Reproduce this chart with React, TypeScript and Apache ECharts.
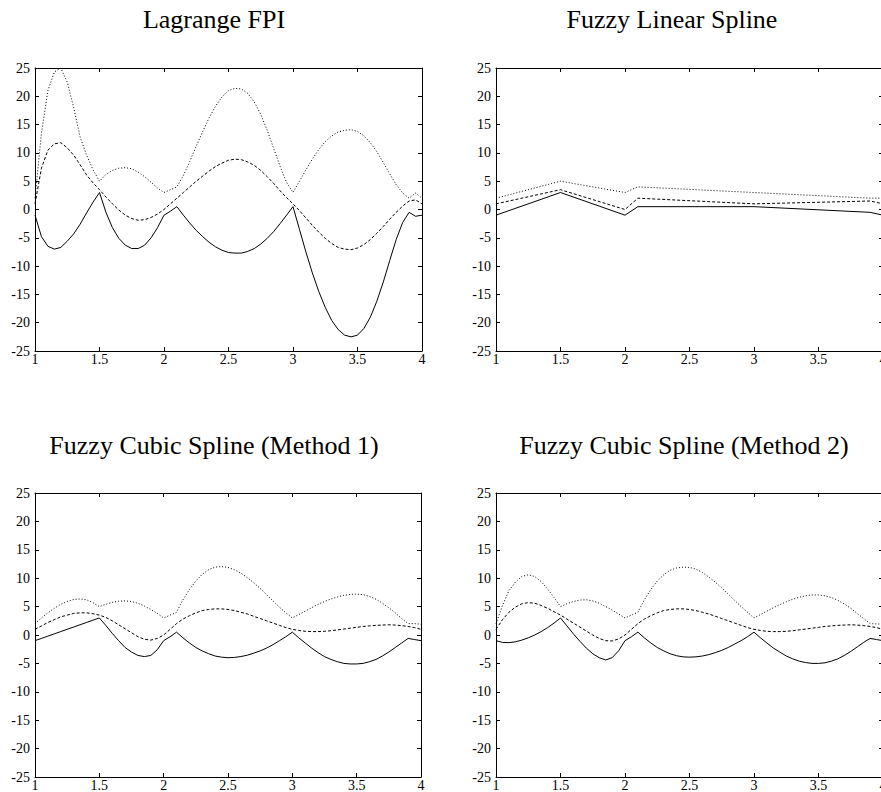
import React, { useEffect, useRef } from "react";
import * as echarts from "echarts";

const XS = [1.00,1.05,1.10,1.15,1.20,1.25,1.30,1.35,1.40,1.45,1.50,1.55,1.60,1.65,1.70,1.75,1.80,1.85,1.90,1.95,2.00,2.05,2.10,2.15,2.20,2.25,2.30,2.35,2.40,2.45,2.50,2.55,2.60,2.65,2.70,2.75,2.80,2.85,2.90,2.95,3.00,3.05,3.10,3.15,3.20,3.25,3.30,3.35,3.40,3.45,3.50,3.55,3.60,3.65,3.70,3.75,3.80,3.85,3.90,3.95,4.00];
// knots of the linear spline
const KNOTS = [1, 1.5, 2, 2.1, 3, 3.9, 4];

// Lagrange FPI
const LAG_LOWER = [-1.0,-4.8,-6.5,-7.0,-6.7,-5.6,-4.3,-2.6,-0.6,1.3,3.0,-0.5,-3.2,-5.1,-6.3,-6.9,-6.9,-6.3,-5.0,-3.2,-1.0,-0.3,0.5,-1.0,-2.4,-3.7,-4.8,-5.8,-6.6,-7.2,-7.6,-7.7,-7.7,-7.4,-6.9,-6.1,-5.1,-3.9,-2.5,-1.0,0.5,-3.5,-7.5,-11.2,-14.5,-17.3,-19.6,-21.2,-22.2,-22.5,-22.2,-21.0,-19.0,-16.2,-12.8,-9.0,-5.3,-2.3,-0.5,-1.2,-1.0];
const LAG_CORE = [1.0,7.3,10.5,11.6,11.8,10.9,9.6,7.9,6.1,4.7,3.5,2.2,1.0,-0.1,-1.0,-1.6,-1.9,-1.8,-1.4,-0.8,0.0,1.0,2.0,3.0,4.0,5.0,5.9,6.8,7.6,8.2,8.7,8.9,8.8,8.4,7.8,6.9,5.8,4.6,3.3,2.1,1.0,-0.2,-1.5,-2.8,-4.0,-5.1,-6.0,-6.7,-7.0,-7.1,-6.8,-6.2,-5.3,-4.2,-3.0,-1.7,-0.5,0.6,1.5,1.7,1.0];
const LAG_UPPER = [2.0,13.5,21.0,24.3,25.0,22.5,18.0,12.8,9.6,7.0,5.0,6.2,6.9,7.3,7.4,7.2,6.6,5.8,4.8,3.8,3.0,3.5,4.0,6.0,8.5,11.2,13.8,16.2,18.3,19.9,21.0,21.4,21.3,20.5,19.0,16.8,14.0,10.8,7.6,4.8,3.0,5.0,7.0,8.9,10.6,12.0,13.0,13.7,14.0,14.1,13.8,13.0,11.8,10.2,8.3,6.3,4.4,2.9,2.0,2.9,2.0];

// Fuzzy linear spline (values at knots)
const LIN_LOWER = [-1, 3, -1, 0.5, 0.5, -0.5, -1];
const LIN_CORE = [1, 3.5, 0, 2, 1, 1.5, 1];
const LIN_UPPER = [2, 5, 3, 4, 3, 2, 2];

// Fuzzy cubic spline, method 1
const C1_LOWER = [-1.0,-0.6,-0.2,0.2,0.6,1.0,1.4,1.8,2.2,2.6,3.0,1.7,0.3,-1.0,-2.2,-3.0,-3.6,-3.8,-3.6,-2.6,-1.0,-0.3,0.5,-0.5,-1.4,-2.2,-2.8,-3.3,-3.7,-3.9,-4.0,-3.95,-3.8,-3.55,-3.2,-2.8,-2.3,-1.7,-1.0,-0.3,0.5,-0.5,-1.4,-2.3,-3.1,-3.8,-4.3,-4.7,-5.0,-5.1,-5.1,-5.0,-4.7,-4.3,-3.7,-3.0,-2.2,-1.4,-0.6,-0.8,-1.0];
const C1_CORE = [1.0,1.6,2.2,2.7,3.2,3.5,3.8,3.9,3.9,3.75,3.5,3.1,2.5,1.8,1.1,0.4,-0.3,-0.75,-0.9,-0.6,0.0,1.0,2.0,2.8,3.4,3.9,4.3,4.5,4.6,4.6,4.5,4.3,4.0,3.7,3.3,2.9,2.5,2.1,1.7,1.3,1.0,0.8,0.65,0.6,0.6,0.65,0.75,0.9,1.05,1.2,1.35,1.5,1.6,1.7,1.75,1.8,1.75,1.65,1.5,1.3,1.0];
const C1_UPPER = [2.0,3.0,3.9,4.7,5.4,5.9,6.25,6.35,6.2,5.7,5.0,5.4,5.75,5.95,6.0,5.9,5.6,5.1,4.5,3.8,3.0,3.5,4.0,6.2,8.0,9.5,10.7,11.5,11.95,12.05,11.9,11.5,10.9,10.1,9.2,8.2,7.1,6.0,4.9,3.9,3.0,3.6,4.2,4.8,5.4,5.9,6.35,6.7,7.0,7.15,7.2,7.1,6.8,6.3,5.6,4.8,3.9,2.9,2.0,2.0,1.9];

// Fuzzy cubic spline, method 2
const C2_LOWER = [-1.0,-1.3,-1.35,-1.2,-0.9,-0.5,0.0,0.6,1.3,2.1,3.0,1.6,0.2,-1.1,-2.3,-3.3,-4.0,-4.4,-4.0,-2.8,-1.0,-0.3,0.5,-0.5,-1.4,-2.2,-2.8,-3.3,-3.65,-3.85,-3.9,-3.85,-3.7,-3.45,-3.1,-2.7,-2.2,-1.6,-1.0,-0.3,0.5,-0.5,-1.4,-2.3,-3.0,-3.7,-4.2,-4.6,-4.85,-5.0,-5.0,-4.9,-4.6,-4.2,-3.6,-2.9,-2.1,-1.3,-0.6,-0.8,-1.0];
const C2_CORE = [1.0,2.7,4.0,4.9,5.5,5.7,5.6,5.2,4.7,4.1,3.5,2.8,2.1,1.4,0.7,0.0,-0.6,-1.0,-1.05,-0.7,0.0,1.0,2.0,2.8,3.4,3.9,4.3,4.5,4.6,4.6,4.5,4.3,4.0,3.7,3.3,2.9,2.5,2.1,1.7,1.3,1.0,0.8,0.65,0.6,0.6,0.65,0.75,0.9,1.05,1.2,1.35,1.5,1.6,1.7,1.75,1.8,1.75,1.65,1.5,1.3,1.0];
const C2_UPPER = [2.0,5.2,7.8,9.3,10.3,10.6,10.3,9.4,8.1,6.6,5.0,5.5,5.9,6.15,6.2,6.0,5.6,5.0,4.4,3.7,3.0,3.5,4.0,6.2,8.0,9.5,10.6,11.4,11.8,11.95,11.9,11.6,11.0,10.2,9.3,8.3,7.2,6.1,5.0,4.0,3.0,3.6,4.2,4.8,5.35,5.85,6.3,6.65,6.9,7.05,7.05,6.9,6.6,6.1,5.45,4.7,3.8,2.9,2.0,1.95,1.9];

const TITLES = ["Lagrange FPI", "Fuzzy Linear Spline", "Fuzzy Cubic Spline (Method 1)", "Fuzzy Cubic Spline (Method 2)"];
const X_MIN = 1, X_MAX = 4, X_STEP = 0.5;
const Y_MIN = -25, Y_MAX = 25, Y_STEP = 5;

const PANELS = [
  { xs: XS, lower: LAG_LOWER, core: LAG_CORE, upper: LAG_UPPER },
  { xs: KNOTS, lower: LIN_LOWER, core: LIN_CORE, upper: LIN_UPPER },
  { xs: XS, lower: C1_LOWER, core: C1_CORE, upper: C1_UPPER },
  { xs: XS, lower: C2_LOWER, core: C2_CORE, upper: C2_UPPER },
];

const GRIDS = [
  { left: 35, top: 68, width: 387, height: 283 },
  { left: 496, top: 68, width: 387, height: 283 },
  { left: 35, top: 493, width: 386, height: 284 },
  { left: 496, top: 493, width: 387, height: 284 },
];
const TITLE_POS = [
  { x: 214, y: 19 },
  { x: 672, y: 19 },
  { x: 214, y: 445 },
  { x: 684, y: 445 },
];

const FONT = "Liberation Serif";

export default function App() {
  const ref = useRef<HTMLDivElement>(null);
  useEffect(() => {
    if (!ref.current) return;
    const chart = echarts.init(ref.current, undefined, { renderer: "svg", width: 920, height: 792 });
    const axisLine = { show: true, onZero: false, lineStyle: { color: "#000", width: 1 } };
    const axisTick = { show: true, inside: true, length: 4, lineStyle: { color: "#000", width: 1 } };
    const labelStyle = { color: "#000", fontFamily: FONT, fontSize: 14, fontWeight: "normal" };
    const xAxis: any[] = [];
    const yAxis: any[] = [];
    const series: any[] = [];
    GRIDS.forEach((_, i) => {
      xAxis.push({
        type: "value", gridIndex: i, position: "bottom", min: X_MIN, max: X_MAX, interval: X_STEP,
        axisLine, axisTick, splitLine: { show: false },
        axisLabel: { show: true, ...labelStyle, margin: 1 },
      });
      xAxis.push({
        type: "value", gridIndex: i, position: "top", min: X_MIN, max: X_MAX, interval: X_STEP,
        axisLine, axisTick, splitLine: { show: false }, axisLabel: { show: false },
      });
      yAxis.push({
        type: "value", gridIndex: i, position: "left", min: Y_MIN, max: Y_MAX, interval: Y_STEP,
        axisLine, axisTick, splitLine: { show: false },
        axisLabel: { show: true, ...labelStyle, margin: 5, padding: [0, 0, 3, 0] },
      });
      yAxis.push({
        type: "value", gridIndex: i, position: "right", min: Y_MIN, max: Y_MAX, interval: Y_STEP,
        axisLine, axisTick, splitLine: { show: false }, axisLabel: { show: false },
      });
      const p = PANELS[i];
      const mk = (ys: number[], type: any) => ({
        type: "line",
        xAxisIndex: i * 2,
        yAxisIndex: i * 2,
        data: p.xs.map((x, k) => [x, ys[k]]),
        symbol: "none",
        smooth: false,
        lineStyle: { color: "#000", width: 1, type },
        silent: true,
      });
      series.push(mk(p.lower, "solid"));
      series.push(mk(p.core, [3, 2]));
      series.push(mk(p.upper, [1, 2]));
    });
    chart.setOption({
      animation: false,
      backgroundColor: "#fff",
      textStyle: { fontFamily: FONT },
      grid: GRIDS.map((g) => ({ ...g, containLabel: false })),
      xAxis,
      yAxis,
      series,
      graphic: TITLES.map((t, i) => ({
        type: "text",
        x: TITLE_POS[i].x,
        y: TITLE_POS[i].y,
        style: { text: t, fontFamily: FONT, fontSize: 26, fill: "#000", align: "center", verticalAlign: "middle" },
      })),
    });
    return () => chart.dispose();
  }, []);
  return (
    <div style={{ position: "absolute", left: 0, top: 0, width: 881, height: 792, overflow: "hidden" }}>
      <div ref={ref} style={{ width: 920, height: 792 }} />
    </div>
  );
}
